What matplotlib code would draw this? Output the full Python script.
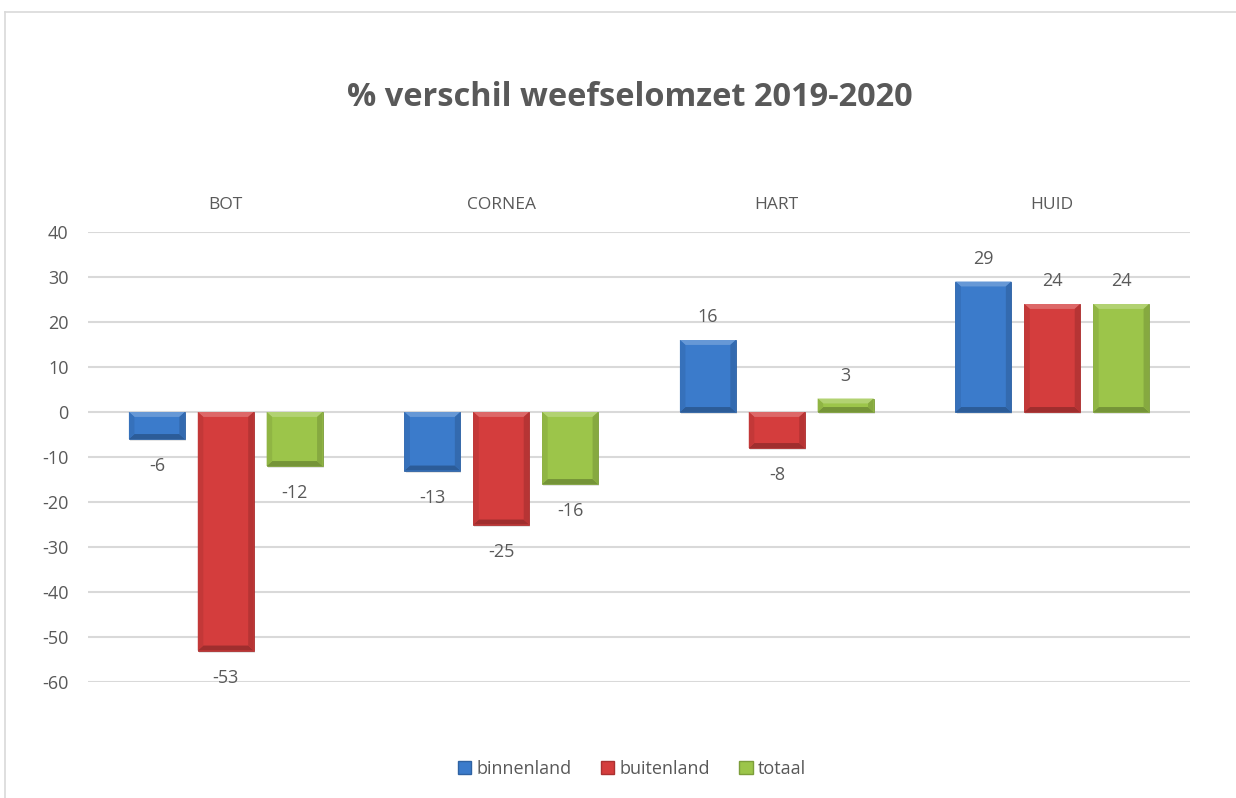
import matplotlib
matplotlib.use("Agg")
import matplotlib.pyplot as plt
import numpy as np
from matplotlib.patches import Polygon, Patch, Rectangle
from matplotlib.lines import Line2D
import matplotlib.colors as mcolors

categories = ["BOT", "CORNEA", "HART", "HUID"]
series_names = ["binnenland", "buitenland", "totaal"]
binnenland = [-6, -13, 16, 29]
buitenland = [-53, -25, -8, 24]
totaal = [-12, -16, 3, 24]
series_values = [binnenland, buitenland, totaal]
yticks = [-60, -50, -40, -30, -20, -10, 0, 10, 20, 30, 40]
title = "% verschil weefselomzet 2019-2020"

colors = ["#3B7BCB", "#D43D3D", "#9CC54A"]
text_color = "#595959"
grid_color = "#D9D9D9"
FONT = "Open Sans"

plt.rcParams['font.family'] = [FONT, 'DejaVu Sans']

fig = plt.figure(figsize=(12.36, 7.98), dpi=100)
W, H = 1236, 798
ax = fig.add_axes([88 / W, 1 - 682 / H, (1190 - 88) / W, (682 - 232) / H])

# chart frame
fig.add_artist(Line2D([5 / W, 5 / W], [0, 1 - 12 / H], color=grid_color, lw=1.2, transform=fig.transFigure))
fig.add_artist(Line2D([5 / W, 1], [1 - 12 / H, 1 - 12 / H], color=grid_color, lw=1.2, transform=fig.transFigure))

x = np.arange(len(categories))
bw = 0.203
offs = [-0.25, 0.0, 0.25]

def shade(c, f):
    r, g, b = mcolors.to_rgb(c)
    if f >= 1:
        t = f - 1
        return (r + (1 - r) * t, g + (1 - g) * t, b + (1 - b) * t)
    return (r * f, g * f, b * f)

for i, (vals, c) in enumerate(zip(series_values, colors)):
    bars = ax.bar(x + offs[i], vals, width=bw, color=c, zorder=3, label=series_names[i],
                  edgecolor=shade(c, 0.8), linewidth=0.6)
    for bar, v in zip(bars, vals):
        x0 = bar.get_x()
        w = bar.get_width()
        x1 = x0 + w
        yb = min(0, v)
        yt = max(0, v)
        dx = 0.02
        dy = min(1.1, (yt - yb) / 2)
        # shadow
        ax.add_patch(Rectangle((x0 + 0.004, yb - 0.5), w, yt - yb, color="#000000", alpha=0.10, zorder=2, lw=0))
        ax.add_patch(Polygon([(x0, yt), (x1, yt), (x1 - dx, yt - dy), (x0 + dx, yt - dy)],
                             closed=True, color=shade(c, 1.22), zorder=4, lw=0))
        ax.add_patch(Polygon([(x0, yb), (x1, yb), (x1 - dx, yb + dy), (x0 + dx, yb + dy)],
                             closed=True, color=shade(c, 0.75), zorder=4, lw=0))
        ax.add_patch(Polygon([(x0, yb), (x0, yt), (x0 + dx, yt - dy), (x0 + dx, yb + dy)],
                             closed=True, color=shade(c, 0.92), zorder=4, lw=0))
        ax.add_patch(Polygon([(x1, yb), (x1, yt), (x1 - dx, yt - dy), (x1 - dx, yb + dy)],
                             closed=True, color=shade(c, 0.86), zorder=4, lw=0))
        if v >= 0:
            ax.annotate(f"{v}", (bar.get_x() + w / 2, v), xytext=(0, 10), textcoords="offset points",
                        ha="center", va="bottom", fontsize=13, color=text_color)
        else:
            ax.annotate(f"{v}", (bar.get_x() + w / 2, v), xytext=(0, -13), textcoords="offset points",
                        ha="center", va="top", fontsize=13, color=text_color)

ax.set_xlim(-0.5, len(categories) - 0.5)
ax.set_ylim(-60, 40)
ax.set_yticks(yticks)
ax.set_yticklabels([str(t) for t in yticks], fontsize=13, color=text_color)
ax.tick_params(axis="y", length=0, pad=14)
ax.xaxis.tick_top()
ax.set_xticks(x)
ax.set_xticklabels(categories, fontsize=12.5, color=text_color)
ax.tick_params(axis="x", length=0, pad=14)
for s in ax.spines.values():
    s.set_visible(False)
ax.yaxis.grid(True, color=grid_color, lw=1.5, zorder=0)
ax.set_axisbelow(True)
ax.set_facecolor("none")

fig.text(630 / W, 1 - 97 / H, title, ha="center", va="center", fontsize=23.4, fontweight="bold",
         color=text_color)

handles = [Patch(facecolor=c, edgecolor=shade(c, 0.8)) for c in colors]
leg = fig.legend(handles, series_names, loc="center", bbox_to_anchor=(632 / W, 1 - 769 / H),
                 ncol=3, frameon=False, fontsize=13, handlelength=0.75, handleheight=0.75,
                 handletextpad=0.3, columnspacing=1.6)
for t in leg.get_texts():
    t.set_color(text_color)

fig.savefig("out.png", dpi=100)
